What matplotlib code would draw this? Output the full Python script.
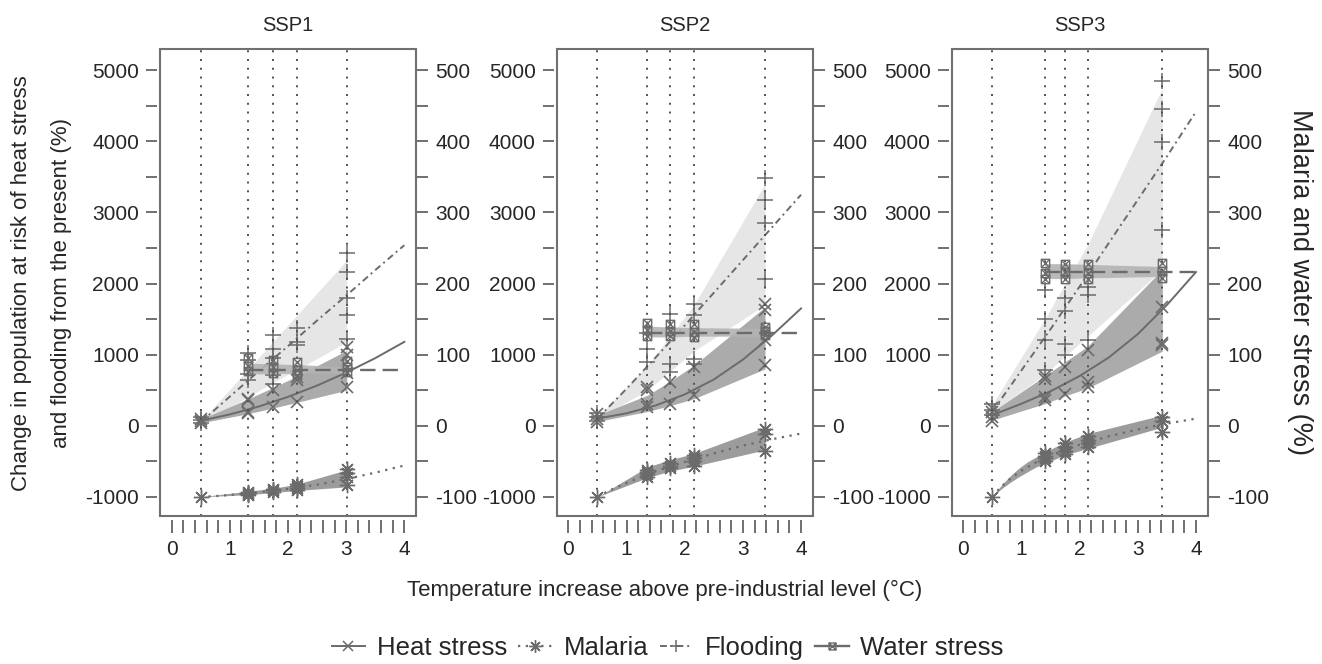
import numpy as np
import matplotlib
matplotlib.use("Agg")
import matplotlib.pyplot as plt
from matplotlib.path import Path
from matplotlib.lines import Line2D
from matplotlib.patches import Rectangle

plt.rcParams['font.family'] = ['Liberation Sans', 'DejaVu Sans']

scenarios = ['SSP1', 'SSP2', 'SSP3']

# temperature of each time slice (vertical dotted lines, marker positions)
temps = {
    'SSP1': [0.5, 1.32, 1.75, 2.16, 3.01],
    'SSP2': [0.5, 1.36, 1.74, 2.16, 3.38],
    'SSP3': [0.5, 1.40, 1.75, 2.14, 3.42],
}

# fitted curves (left axis: heat stress, flooding)
curve_x = [0.5, 1.0, 1.5, 2.0, 2.5, 3.0, 3.5, 4.0]
heat_fit = {
    'SSP1': [70, 159, 271, 406, 565, 747, 951, 1180],
    'SSP2': [100, 175, 285, 440, 650, 930, 1270, 1650],
    'SSP3': [150, 310, 485, 700, 960, 1290, 1700, 2163],
}
flood_fit = {
    'SSP1': [50, 410, 770, 1120, 1480, 1830, 2190, 2540],
    'SSP2': [100, 520, 960, 1410, 1870, 2330, 2790, 3250],
    'SSP3': [200, 780, 1360, 1960, 2570, 3180, 3790, 4420],
}
# fitted curves (right axis: malaria, water stress)
malaria_x = [0.5, 0.6, 0.7, 0.8, 0.9, 1.0, 1.25, 1.5, 2.0, 2.5, 3.0, 3.5, 4.0]
malaria_fit = {
    'SSP1': [-100, -99.6, -99.2, -98.7, -98.1, -97.4, -95.6, -93.5, -89, -83, -75, -66, -56],
    'SSP2': [-100, -95.5, -91.5, -87.5, -84, -80.5, -72, -64, -51, -39, -28, -19, -11],
    'SSP3': [-100, -90.3, -82.2, -75.1, -68.9, -63.3, -51.5, -41.9, -26.6, -14.8, -5.2, 3, 10],
}
water_level = {'SSP1': 78, 'SSP2': 131, 'SSP3': 216}

# uncertainty bands at the time slices
heat_hi = {'SSP1': [90, 380, 540, 700, 1060],
           'SSP2': [150, 430, 620, 850, 1670],
           'SSP3': [200, 700, 900, 1120, 2200]}
heat_lo = {'SSP1': [40, 170, 250, 330, 500],
           'SSP2': [60, 200, 280, 380, 800],
           'SSP3': [80, 310, 420, 530, 1050]}
flood_hi = {'SSP1': [60, 800, 1190, 1560, 2330],
            'SSP2': [120, 850, 1250, 1700, 3400],
            'SSP3': [300, 1500, 2000, 2550, 4750]}
flood_lo = {'SSP1': [40, 410, 610, 790, 1180],
            'SSP2': [100, 500, 760, 1050, 1700],
            'SSP3': [200, 720, 980, 1260, 2200]}
malaria_band_x = {'SSP1': [0.5, 1.32, 1.75, 2.16, 3.01],
                  'SSP2': [0.5, 1.36, 1.74, 2.16, 3.38],
                  'SSP3': [0.5, 0.65, 0.8, 0.95, 1.1, 1.25, 1.40, 1.75, 2.14, 3.42]}
malaria_hi = {'SSP1': [-100, -92, -88, -82, -62],
              'SSP2': [-100, -58, -48, -39, -2],
              'SSP3': [-100, -84, -71, -60, -51, -44, -37, -23, -11, 15]}
malaria_lo = {'SSP1': [-100, -97, -94, -91, -86],
              'SSP2': [-100, -73, -64, -57, -34],
              'SSP3': [-100, -89, -80, -72, -65, -58, -53, -41, -32, -2]}
water_hi = {'SSP1': [88, 87, 86, 83], 'SSP2': [140, 139, 138, 137], 'SSP3': [228, 228, 227, 224]}
water_lo = {'SSP1': [73, 73, 74, 74], 'SSP2': [125, 125, 126, 126], 'SSP3': [207, 207, 208, 210]}

# individual model results at each time slice
heat_pts = {
    'SSP1': [[40, 70, 100], [175, 200, 360, 380], [265, 500], [335, 640, 686], [546, 740, 1000, 1110]],
    'SSP2': [[50, 100, 160], [264, 300, 499, 540], [312, 616], [429, 827], [851, 1203, 1624, 1718]],
    'SSP3': [[60, 120, 200, 250], [359, 400, 664, 700], [453, 827], [546, 616, 1062], [1132, 1160, 1671]],
}
flood_pts = {
    'SSP1': [[40, 80, 120], [640, 734, 921, 1024], [593, 710, 959, 1086, 1273], [1132, 1179, 1381],
             [1226, 1554, 1803, 2163, 2431]],
    'SSP2': [[60, 120, 180], [897, 1086, 1300], [757, 875, 1578], [875, 945, 1554, 1718],
             [2060, 2858, 3172, 3491]],
    'SSP3': [[150, 220, 300], [781, 1203, 1508, 1916], [992, 1156, 1615, 1803], [1203, 1835, 1952],
             [2760, 3992, 4461, 4850]],
}
malaria_pts = {
    'SSP1': [[-100], [-93, -95, -96, -97], [-89, -91, -93], [-82, -85, -88, -90], [-61, -67, -72, -84]],
    'SSP2': [[-100], [-62, -65, -68, -72], [-52, -56, -60], [-41, -45, -50, -56], [-4, -11, -36]],
    'SSP3': [[-100], [-38, -42, -46, -50], [-25, -30, -35, -40], [-15, -20, -25, -30], [12, 6, -9]],
}
water_pts = {
    'SSP1': [[77, 84, 95], [74, 82, 92], [72, 79, 89], [75, 82, 91]],
    'SSP2': [[126, 134, 144], [126, 133, 143], [125, 132, 143], [128, 133, 139]],
    'SSP3': [[207, 215, 229], [207, 216, 228], [206, 215, 227], [208, 217, 229]],
}

series_labels = ['Heat stress', 'Malaria', 'Flooding', 'Water stress']

# ---------------------------------------------------------------- style
LC = '#6b6b6b'
TXT = '#262626'
FRAME = '#707070'
LIGHT = '#e6e6e6'
DARK = '#ababab'
MAL_BAND = '#9c9c9c'
WAT_BAND = '#b3b3b3'

boxx = Path([(-1, -1), (1, -1), (1, 1), (-1, 1), (-1, -1), (-1, -1), (1, 1), (-1, 1), (1, -1)],
            [Path.MOVETO, Path.LINETO, Path.LINETO, Path.LINETO, Path.LINETO,
             Path.MOVETO, Path.LINETO, Path.MOVETO, Path.LINETO])
ast = (8, 2, 0)

ls_heat = '-'
ls_mal = (0, (1, 2.5))
ls_flood = (0, (3.5, 2, 1, 2))
ls_water = (0, (6.5, 3))
ls_vline = (0, (1, 3.5))

W, H = 1322, 664
fig = plt.figure(figsize=(W / 100, H / 100), dpi=100)
lefts = [160, 556.7, 951.7]
pw = 256
top, bot = 49, 516

TICK_FS = 15

for i, s in enumerate(scenarios):
    ax = fig.add_axes([lefts[i] / W, 1 - bot / H, pw / W, (bot - top) / H])
    ax2 = ax.twinx()
    ax.set_xlim(-0.2, 4.2)
    ax.set_ylim(-1270, 5300)
    ax2.set_ylim(-127, 530)
    t = temps[s]

    # bands
    ax.fill_between(t, flood_lo[s], flood_hi[s], color=LIGHT, lw=0, zorder=1)
    ax.fill_between(t, heat_lo[s], heat_hi[s], color=DARK, lw=0, zorder=1.2)
    ax2.fill_between(malaria_band_x[s], malaria_lo[s], malaria_hi[s], color=MAL_BAND, lw=0, zorder=1)
    ax2.fill_between(t[1:], water_lo[s], water_hi[s], color=WAT_BAND, lw=0, zorder=1, alpha=0.9)

    # vertical dotted lines
    for tv in t:
        ax2.axvline(tv, color='#505050', lw=1.4, ls=ls_vline, zorder=1.5)

    # fitted curves
    ax.plot(curve_x, heat_fit[s], color=LC, lw=1.4, ls=ls_heat, zorder=3)
    ax.plot(curve_x, flood_fit[s], color=LC, lw=1.4, ls=ls_flood, zorder=3)
    ax2.plot(malaria_x, malaria_fit[s], color=LC, lw=1.6, ls=ls_mal, zorder=3)
    ax2.plot([t[1], 4.0], [water_level[s]] * 2, color=LC, lw=1.7, ls=ls_water, zorder=3)

    # model points
    for k, tv in enumerate(t):
        ax.plot([tv] * len(flood_pts[s][k]), flood_pts[s][k], ls='none', marker='+', ms=11,
                mew=1.1, color=LC, zorder=4)
        ax.plot([tv] * len(heat_pts[s][k]), heat_pts[s][k], ls='none', marker='x', ms=8,
                mew=1.2, color=LC, zorder=4)
        ax2.plot([tv] * len(malaria_pts[s][k]), malaria_pts[s][k], ls='none', marker=ast, ms=11,
                 mew=1.0, color=LC, zorder=4)
    for k, tv in enumerate(t[1:]):
        ax2.plot([tv] * len(water_pts[s][k]), water_pts[s][k], ls='none', marker=boxx, ms=6,
                 mew=1.0, mfc='none', color=LC, zorder=4)

    # frame and ticks
    for a in (ax, ax2):
        for sp in a.spines.values():
            sp.set_visible(False)
    ax.spines['left'].set_position(('outward', 2))
    ax.spines['bottom'].set_position(('outward', 3))
    ax2.spines['right'].set_position(('outward', 1))
    ax2.add_patch(Rectangle((0, 0), 1, 1, transform=ax.transAxes, fill=False, ec=FRAME, lw=1.5,
                            clip_on=False, zorder=10))

    yt = np.arange(-1000, 5001, 500)
    ax.set_yticks(yt)
    ax.set_yticklabels([str(v) if v % 1000 == 0 else '' for v in yt])
    yt2 = np.arange(-100, 501, 50)
    ax2.set_yticks(yt2)
    ax2.set_yticklabels([str(v) if v % 100 == 0 else '' for v in yt2])
    xt = np.round(np.arange(0, 4.001, 0.2), 1)
    ax.set_xticks(xt)
    ax.set_xticklabels([str(int(v)) if abs(v - round(v)) < 1e-6 else '' for v in xt])

    ax.tick_params(axis='y', length=8, width=1.4, color=FRAME, labelsize=TICK_FS, labelcolor=TXT, pad=5)
    ax2.tick_params(axis='y', length=8, width=1.4, color=FRAME, labelsize=TICK_FS, labelcolor=TXT, pad=5)
    ax.tick_params(axis='x', length=9, width=1.4, color=FRAME, labelsize=TICK_FS, labelcolor=TXT, pad=5)

    ax.set_title(s, fontsize=14.5, color=TXT, pad=13)

fig.text(22 / W, 1 - 283 / H, 'Change in population at risk of heat stress', rotation=90,
         ha='center', va='center', fontsize=16, color=TXT)
fig.text(62 / W, 1 - 283 / H, 'and flooding from the present (%)', rotation=90,
         ha='center', va='center', fontsize=16, color=TXT)
fig.text(1300 / W, 1 - 282 / H, 'Malaria and water stress (%)', rotation=270,
         ha='center', va='center', fontsize=19.5, color=TXT)
fig.text(665 / W, 1 - 590 / H, 'Temperature increase above pre-industrial level (\u00b0C)',
         ha='center', va='center', fontsize=16, color=TXT)

handles = [
    Line2D([], [], color=LC, lw=1.4, ls=ls_heat, marker='x', ms=7, mew=1.1),
    Line2D([], [], color=LC, lw=1.6, ls=ls_mal, marker=ast, ms=9, mew=1.0),
    Line2D([], [], color=LC, lw=1.4, ls=ls_flood, marker='+', ms=9, mew=1.1),
    Line2D([], [], color=LC, lw=1.7, ls='-', marker=boxx, ms=5, mew=1.0, mfc='none'),
]
fig.legend(handles, series_labels, loc='center', bbox_to_anchor=(0.505, 1 - 648 / H), ncol=4,
           frameon=False, fontsize=18.5, handlelength=1.3, handletextpad=0.45, columnspacing=0.45,
           labelcolor=TXT)

fig.savefig('out.png', dpi=100)
